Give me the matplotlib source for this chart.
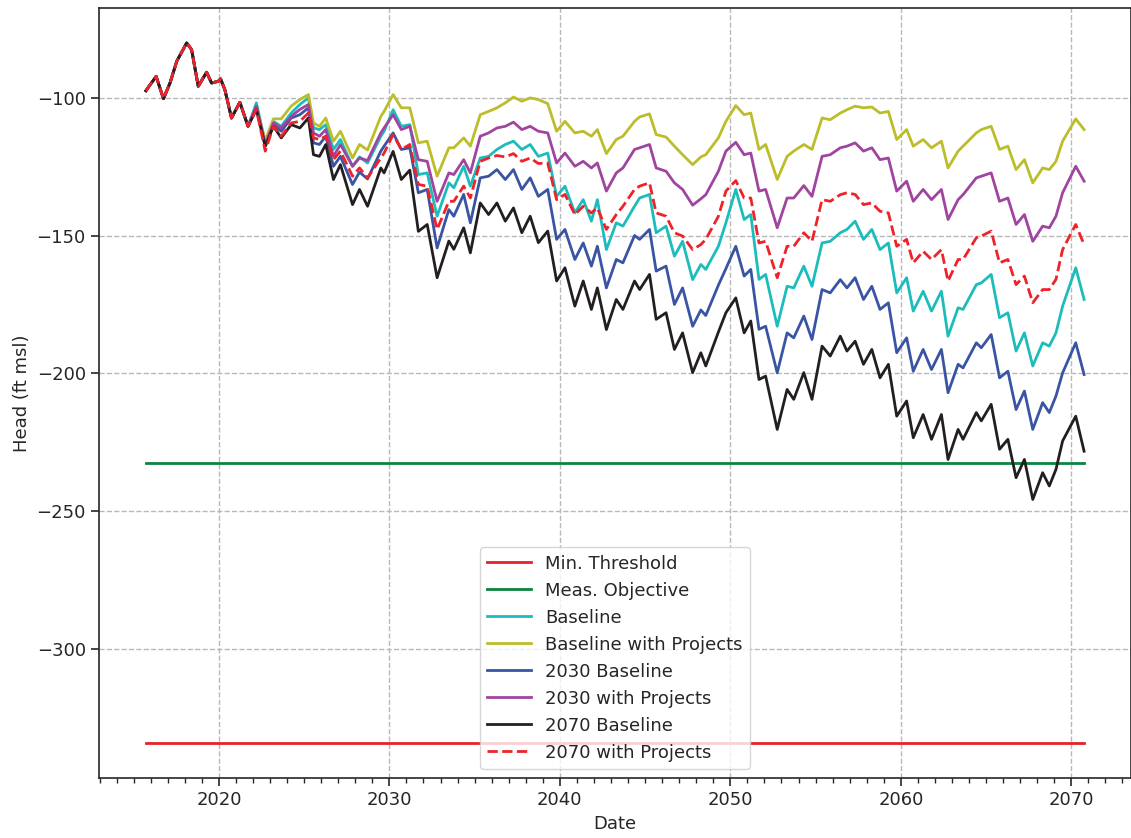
import matplotlib
matplotlib.use("Agg")
import matplotlib.pyplot as plt
from matplotlib.ticker import MultipleLocator

# ---------------- data ----------------
hist_dates = [2015.72, 2016.32, 2016.75, 2017.14, 2017.53, 2018.11, 2018.4, 2018.79,
              2019.28, 2019.57, 2019.96, 2020.1, 2020.35, 2020.74, 2021.23, 2021.71]
hist_head = [-97.5, -92.3, -100.4, -94.6, -86.8, -80.2, -82.6, -95.9,
             -90.8, -94.7, -94.1, -93.2, -97.1, -107.4, -101.7, -110.4]

proj_dates = [2022.2, 2022.72, 2023.2, 2023.66, 2024.24, 2024.75, 2025.25, 2025.55, 2025.9, 2026.27,
              2026.72, 2027.13, 2027.84, 2028.25, 2028.72, 2029.5, 2029.69, 2030.22, 2030.7, 2031.2,
              2031.7, 2032.22, 2032.8, 2033.49, 2033.78, 2034.36, 2034.75, 2035.33, 2035.82, 2036.31,
              2036.8, 2037.28, 2037.77, 2038.26, 2038.74, 2039.29, 2039.81, 2040.3, 2040.88, 2041.37,
              2041.85, 2042.2, 2042.73, 2043.31, 2043.7, 2044.38, 2044.68, 2045.26, 2045.65, 2046.23,
              2046.72, 2047.2, 2047.79, 2048.27, 2048.56, 2049.3, 2049.74, 2050.32, 2050.81, 2051.2,
              2051.68, 2052.07, 2052.75, 2053.33, 2053.72, 2054.31, 2054.79, 2055.38, 2055.86, 2056.45,
              2056.84, 2057.32, 2057.81, 2058.3, 2058.78, 2059.27, 2059.76, 2060.34, 2060.73, 2061.31,
              2061.8, 2062.38, 2062.77, 2063.36, 2063.65, 2064.43, 2064.72, 2065.3, 2065.79, 2066.28,
              2066.76, 2067.25, 2067.74, 2068.32, 2068.71, 2069.1, 2069.49, 2070.26, 2070.75]

baseline = [-101.9, -116.4, -108.6, -110.4, -105.6, -102.5, -100.1, -111.0, -111.6, -109.8,
            -118.8, -115.2, -124.9, -121.5, -123.7, -114.0, -112.2, -104.4, -110.4, -109.8,
            -127.9, -127.3, -143.0, -130.9, -132.7, -124.9, -132.1, -121.9, -121.3, -118.8,
            -117.0, -115.8, -118.8, -117.0, -121.3, -120.1, -135.8, -132.1, -141.8, -137.0,
            -144.8, -137.0, -155.1, -145.4, -146.6, -139.4, -136.4, -135.1, -149.0, -146.6,
            -157.5, -152.1, -166.0, -160.5, -162.3, -153.9, -145.4, -133.3, -144.2, -142.4,
            -165.9, -164.1, -182.9, -168.4, -169.0, -161.1, -168.4, -152.7, -152.1, -149.0,
            -147.8, -144.8, -151.4, -147.8, -155.1, -152.7, -170.8, -165.3, -177.4, -170.2,
            -177.4, -170.2, -186.5, -176.2, -176.8, -167.8, -167.2, -164.1, -179.8, -178.0,
            -191.9, -185.3, -197.3, -188.9, -190.1, -185.3, -175.6, -161.7, -173.2]

baseline_proj = [-103.7, -115.5, -107.7, -107.7, -103.1, -100.7, -98.9, -109.2, -110.4, -107.4,
                 -115.8, -112.2, -121.9, -117.0, -119.0, -106.8, -105.0, -98.9, -103.7, -103.7,
                 -116.4, -115.8, -128.5, -118.2, -118.2, -114.6, -117.6, -106.2, -105.0, -103.7,
                 -101.9, -99.8, -101.3, -100.1, -100.7, -102.2, -112.2, -108.6, -112.8, -112.2,
                 -114.0, -111.6, -120.3, -115.2, -114.0, -108.6, -107.0, -105.9, -113.4, -114.3,
                 -117.6, -120.7, -124.3, -121.5, -120.7, -114.6, -108.6, -102.9, -106.2, -105.6,
                 -118.8, -117.0, -129.7, -121.3, -119.4, -117.0, -118.8, -107.4, -108.0, -105.6,
                 -104.4, -103.1, -103.7, -103.4, -105.6, -105.0, -115.2, -111.6, -117.6, -115.2,
                 -118.2, -115.8, -125.5, -119.4, -117.6, -112.8, -111.6, -110.4, -118.8, -117.6,
                 -126.1, -122.5, -130.9, -125.5, -126.1, -123.1, -115.8, -107.7, -111.6]

b2030 = [-103.7, -117.6, -109.8, -112.2, -107.4, -106.2, -103.7, -116.4, -117.0, -114.0,
         -124.9, -121.3, -131.5, -127.0, -129.5, -119.4, -117.6, -112.8, -118.8, -118.2,
         -134.5, -133.3, -154.5, -140.6, -143.0, -135.1, -145.4, -129.1, -128.5, -126.1,
         -129.7, -126.1, -133.3, -129.1, -135.8, -133.3, -151.4, -147.8, -158.7, -152.7,
         -161.1, -153.9, -169.0, -158.7, -159.9, -150.0, -151.4, -147.8, -162.9, -161.1,
         -175.0, -169.0, -182.9, -177.0, -179.0, -168.0, -162.0, -153.9, -164.7, -162.3,
         -184.0, -182.9, -199.8, -185.3, -187.1, -179.2, -187.7, -169.6, -170.8, -166.0,
         -169.0, -165.3, -173.2, -168.4, -176.8, -174.4, -192.5, -187.1, -199.2, -191.3,
         -198.6, -191.3, -207.0, -196.7, -198.0, -188.9, -190.7, -185.9, -201.6, -199.2,
         -213.1, -206.4, -220.3, -210.6, -214.2, -208.2, -199.8, -188.9, -200.4]

p2030 = [-103.1, -117.0, -109.2, -111.0, -106.8, -104.3, -102.5, -112.8, -114.0, -111.6,
         -121.3, -117.0, -124.9, -121.9, -122.8, -112.8, -111.0, -106.2, -111.6, -110.4,
         -122.5, -123.1, -137.6, -127.3, -127.9, -122.5, -127.3, -114.0, -112.8, -111.0,
         -110.4, -108.9, -111.6, -110.4, -112.2, -112.8, -123.7, -120.1, -124.9, -123.1,
         -125.5, -123.7, -133.9, -127.3, -125.5, -118.8, -118.2, -117.0, -125.5, -126.7,
         -130.9, -133.3, -139.0, -136.7, -135.2, -126.7, -119.4, -116.2, -120.7, -120.1,
         -133.9, -133.3, -147.2, -136.4, -136.4, -131.9, -135.8, -121.3, -120.7, -118.2,
         -117.6, -116.4, -119.4, -118.2, -122.5, -121.9, -133.9, -130.3, -137.6, -133.3,
         -137.0, -133.3, -144.2, -137.0, -135.2, -129.1, -128.5, -127.3, -137.6, -136.4,
         -146.0, -142.4, -152.1, -146.6, -147.2, -143.0, -134.5, -124.9, -130.3]

b2070 = [-104.3, -117.6, -110.4, -114.6, -109.8, -111.0, -107.4, -120.7, -121.3, -117.0,
         -129.7, -124.3, -138.8, -133.3, -139.4, -125.5, -127.3, -119.5, -129.7, -126.3,
         -148.5, -146.0, -165.3, -152.0, -155.0, -147.2, -156.3, -138.2, -142.4, -138.2,
         -144.8, -140.0, -149.0, -143.0, -152.6, -148.4, -166.5, -161.7, -175.6, -166.5,
         -176.8, -169.0, -184.1, -173.2, -176.8, -166.5, -169.6, -164.1, -180.4, -178.0,
         -191.3, -185.3, -199.7, -192.5, -197.3, -185.0, -178.0, -172.6, -185.3, -181.0,
         -202.2, -201.0, -220.3, -205.8, -209.4, -199.7, -209.4, -190.1, -193.7, -186.5,
         -191.9, -188.3, -196.7, -191.3, -201.6, -196.7, -215.5, -210.0, -223.3, -214.9,
         -223.9, -214.9, -231.2, -220.3, -223.9, -214.2, -217.2, -211.2, -227.5, -223.9,
         -237.8, -231.2, -245.7, -236.0, -240.8, -234.8, -224.5, -215.5, -228.2]

p2070 = [-104.3, -119.4, -110.4, -114.0, -109.2, -108.6, -105.6, -114.6, -115.2, -114.0,
         -122.5, -119.4, -128.5, -125.5, -129.1, -121.9, -120.1, -113.4, -118.8, -117.0,
         -131.5, -132.1, -147.8, -137.6, -137.6, -132.1, -136.4, -123.1, -121.9, -121.0,
         -121.5, -120.3, -123.1, -121.9, -123.9, -123.7, -137.0, -135.1, -142.4, -139.4,
         -141.8, -140.0, -147.8, -142.4, -139.4, -133.3, -132.1, -130.9, -141.8, -143.0,
         -149.0, -150.2, -155.1, -153.3, -151.4, -143.0, -133.9, -130.1, -136.4, -136.4,
         -152.7, -152.1, -165.3, -153.9, -153.9, -149.0, -152.1, -137.0, -137.6, -135.2,
         -134.5, -135.1, -138.8, -138.2, -141.2, -141.8, -153.9, -151.4, -159.9, -155.7,
         -158.7, -155.1, -166.5, -158.7, -158.7, -150.8, -150.2, -148.4, -159.9, -158.7,
         -167.8, -164.7, -174.4, -169.6, -169.6, -165.9, -155.1, -146.0, -153.3]

min_threshold = -334.0
meas_objective = -232.3

labels = ["Min. Threshold", "Meas. Objective", "Baseline", "Baseline with Projects",
          "2030 Baseline", "2030 with Projects", "2070 Baseline", "2070 with Projects"]
title_text = "Hydrograph for Key Well (projected) by Scenario Group"

# ---------------- plot ----------------
plt.rcParams["font.family"] = ["DejaVu Sans"]
plt.rcParams["text.color"] = "#262626"
plt.rcParams["axes.labelcolor"] = "#262626"
plt.rcParams["xtick.color"] = "#262626"
plt.rcParams["ytick.color"] = "#262626"

fig = plt.figure(figsize=(11.31, 8.38), dpi=100)
ax = fig.add_axes([99 / 1131, 60 / 838, 1032 / 1131, 770 / 838])

dates = hist_dates + proj_dates
first, last = dates[0], dates[-1]

ax.plot([first, last], [min_threshold, min_threshold], color="#e8202a", lw=2.0, label=labels[0])
ax.plot([first, last], [meas_objective, meas_objective], color="#0b843d", lw=2.0, label=labels[1])
series = [(baseline, "#1dbcbc", "-"), (baseline_proj, "#bcbd2a", "-"),
          (b2030, "#3a54a4", "-"), (p2030, "#a0449f", "-"),
          (b2070, "#231f20", "-"), (p2070, "#ee2229", "--")]
for (vals, col, ls), lab in zip(series, labels[2:]):
    ax.plot(dates, hist_head + vals, color=col, lw=2.0, ls=ls, label=lab)

ax.xaxis.set_major_locator(MultipleLocator(10))
ax.xaxis.set_minor_locator(MultipleLocator(1))
ax.yaxis.set_major_locator(MultipleLocator(50))
ax.tick_params(axis="both", which="major", labelsize=13, length=6, width=1.2, direction="out")
ax.tick_params(axis="x", which="minor", length=3.5, width=1.0, direction="out")
ax.grid(True, which="major", ls="--", color="#b8b8b8", lw=1.0)

for s in ax.spines.values():
    s.set_color("#262626")
    s.set_linewidth(1.2)

ax.set_xlabel("Date", fontsize=13)
ax.set_ylabel("Head (ft msl)", fontsize=13)
ax.set_title(title_text, fontsize=13, pad=8.8)

ax.legend(loc="lower center", fontsize=13, handlelength=2.4, framealpha=0.8,
          edgecolor="#cccccc")

fig.savefig("out.png", dpi=100)
